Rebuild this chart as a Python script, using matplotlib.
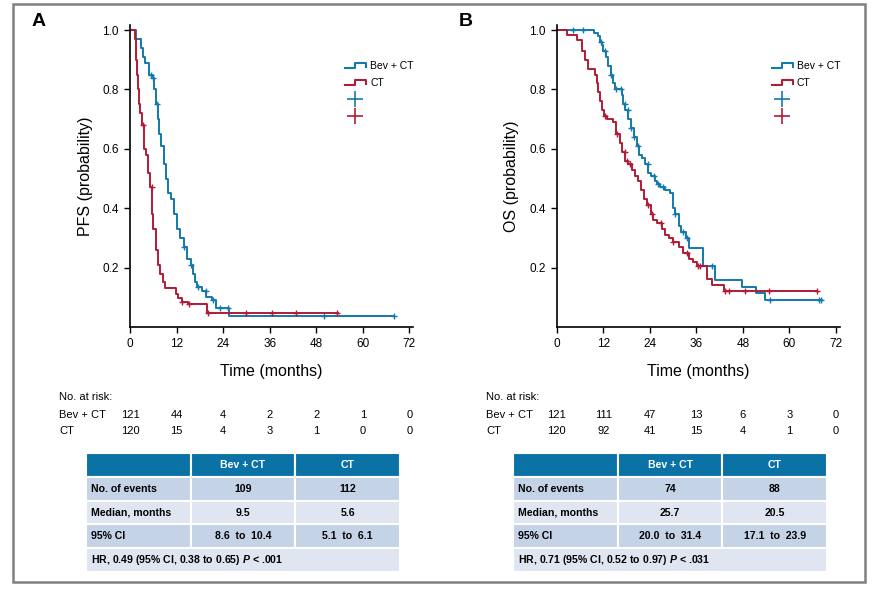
import numpy as np
import matplotlib
matplotlib.use("Agg")
from matplotlib import pyplot as plt
from matplotlib.lines import Line2D
from matplotlib.patches import Rectangle

plt.rcParams['font.family'] = ['Liberation Sans', 'DejaVu Sans']
plt.rcParams['mathtext.fontset'] = 'custom'
plt.rcParams['mathtext.it'] = 'Liberation Sans:italic:bold'
plt.rcParams['mathtext.rm'] = 'Liberation Sans:bold'

BLUE = '#1479ab'
RED = '#b01c35'

# ---- data ----
# Panel A: PFS
pfs_bev_t = [0, 1.6, 2.9, 3.4, 3.8, 4.9, 5.8, 6.2, 6.7, 7.2, 7.6, 7.9, 8.8, 9.2, 9.9,
             10.6, 11.3, 12.0, 12.9, 13.9, 14.6, 15.6, 16.2, 16.8, 17.2, 18.6, 19.6,
             21.2, 22.1, 25.4, 68.0]
pfs_bev_s = [1.0, 0.97, 0.94, 0.91, 0.89, 0.85, 0.84, 0.80, 0.75, 0.70, 0.65, 0.61,
             0.55, 0.50, 0.45, 0.43, 0.38, 0.33, 0.30, 0.27, 0.23, 0.21, 0.18, 0.15,
             0.136, 0.12, 0.10, 0.09, 0.063, 0.038, 0.038]
pfs_bev_cens = [5.5, 5.9, 7.0, 14.0, 15.8, 17.5, 19.5, 21.4, 23.2, 25.2, 50.0, 68.0]

pfs_ct_t = [0, 1.2, 1.5, 1.7, 2.0, 2.2, 2.6, 3.0, 3.6, 4.0, 4.7, 5.2, 5.7, 6.0, 6.6,
            7.1, 7.7, 8.4, 9.1, 9.9, 11.9, 12.5, 13.5, 15.0, 19.8, 53.5]
pfs_ct_s = [1.0, 0.97, 0.90, 0.85, 0.80, 0.75, 0.72, 0.68, 0.60, 0.58, 0.52, 0.47,
            0.38, 0.33, 0.26, 0.21, 0.18, 0.15, 0.13, 0.13, 0.11, 0.099, 0.085, 0.076,
            0.048, 0.048]
pfs_ct_cens = [3.4, 5.6, 13.5, 15.2, 20.0, 29.8, 36.5, 42.8, 53.3]

# Panel B: OS
os_bev_t = [0, 9.6, 10.7, 11.2, 11.7, 12.0, 12.7, 13.3, 14.0, 14.4, 15.0, 16.8, 17.2,
            17.7, 18.5, 19.1, 19.8, 20.6, 21.3, 21.9, 22.8, 23.6, 24.2, 25.3, 25.9,
            26.6, 27.9, 29.2, 30.0, 30.5, 31.4, 32.0, 33.3, 34.0, 37.8, 40.8, 47.7,
            51.5, 53.7, 68.4]
os_bev_s = [1.0, 0.99, 0.98, 0.96, 0.95, 0.93, 0.91, 0.88, 0.85, 0.82, 0.80, 0.78,
            0.75, 0.73, 0.70, 0.67, 0.64, 0.61, 0.58, 0.57, 0.55, 0.52, 0.51, 0.49,
            0.48, 0.47, 0.46, 0.45, 0.40, 0.38, 0.34, 0.32, 0.30, 0.265, 0.206, 0.158,
            0.136, 0.113, 0.091, 0.091]
os_bev_cens = [4.1, 6.7, 11.5, 12.5, 14.0, 15.2, 16.5, 17.5, 18.4, 19.2, 20.0, 21.0,
               23.5, 25.0, 26.0, 27.5, 30.6, 32.5, 33.5, 40.0, 55.0, 67.5, 68.2]

os_ct_t = [0, 2.6, 5.2, 6.4, 7.3, 8.0, 9.9, 10.3, 10.7, 11.2, 11.8, 12.3, 13.0, 14.6,
           15.3, 16.2, 16.8, 17.7, 18.5, 19.3, 20.2, 21.0, 21.7, 22.5, 23.4, 24.2, 24.9,
           25.8, 27.1, 27.9, 29.0, 29.9, 31.6, 32.6, 34.2, 35.2, 36.1, 38.8, 40.1, 43.0,
           67.0]
os_ct_s = [1.0, 0.985, 0.965, 0.93, 0.90, 0.87, 0.85, 0.82, 0.79, 0.76, 0.73, 0.71,
           0.70, 0.69, 0.65, 0.62, 0.59, 0.56, 0.55, 0.53, 0.51, 0.49, 0.46, 0.43, 0.41,
           0.38, 0.36, 0.35, 0.33, 0.31, 0.30, 0.285, 0.27, 0.25, 0.23, 0.22, 0.205,
           0.16, 0.143, 0.121, 0.121]
os_ct_cens = [12.5, 15.5, 17.5, 18.2, 19.0, 23.5, 24.5, 27.0, 30.0, 33.5, 36.5, 37.0,
              43.5, 44.5, 48.5, 54.7, 67.0]

risk_times = [0, 12, 24, 36, 48, 60, 72]
pfs_risk_bev = [121, 44, 4, 2, 2, 1, 0]
pfs_risk_ct = [120, 15, 4, 3, 1, 0, 0]
os_risk_bev = [121, 111, 47, 13, 6, 3, 0]
os_risk_ct = [120, 92, 41, 15, 4, 1, 0]

table_cols = ['', 'Bev + CT', 'CT']
table_rows = ['No. of events', 'Median, months', '95% CI']
pfs_table = [['109', '112'], ['9.5', '5.6'], ['8.6  to  10.4', '5.1  to  6.1']]
os_table = [['74', '88'], ['25.7', '20.5'], ['20.0  to  31.4', '17.1  to  23.9']]
pfs_hr = r'HR, 0.49 (95% CI, 0.38 to 0.65) $P$ < .001'
os_hr = r'HR, 0.71 (95% CI, 0.52 to 0.97) $P$ < .031'


class StepHandler:
    # legend icon drawn as a small step
    def legend_artist(self, legend, orig_handle, fontsize, handlebox):
        x0, y0 = -handlebox.xdescent, -handlebox.ydescent
        w, h = handlebox.width, handlebox.height
        xs = [x0, x0 + 0.5 * w, x0 + 0.5 * w, x0 + w, x0 + w]
        ys = [y0 + 0.15 * h, y0 + 0.15 * h, y0 + 0.85 * h, y0 + 0.85 * h, y0 + 0.35 * h]
        line = Line2D(xs, ys, color=orig_handle.get_color(), lw=1.5,
                      transform=handlebox.get_transform())
        handlebox.add_artist(line)
        return line


def surv_at(times, t, s):
    idx = np.searchsorted(t, times, side='right') - 1
    return np.array(s)[idx]


W, H = 878, 593
fig = plt.figure(figsize=(W / 100, H / 100), dpi=100)

# outer frame
fig.patches.append(Rectangle((13 / W, 1 - 582 / H), 852 / W, 578 / H, transform=fig.transFigure,
                             fill=False, edgecolor='#808080', lw=1.8))


def km_panel(left_px, letter, ylabel, bev_t, bev_s, bev_c, ct_t, ct_s, ct_c,
             risk_bev, risk_ct, tab_left_px, tab_vals, hr_text):
    ax = fig.add_axes([left_px / W, 1 - 327 / H, 283 / W, 302 / H])
    l1, = ax.plot(bev_t, bev_s, drawstyle='steps-post', color=BLUE, lw=1.4, label='Bev + CT')
    l2, = ax.plot(ct_t, ct_s, drawstyle='steps-post', color=RED, lw=1.4, label='CT')
    ax.plot(bev_c, surv_at(bev_c, bev_t, bev_s), ls='none', marker='+', ms=5, mew=1, color=BLUE)
    ax.plot(ct_c, surv_at(ct_c, ct_t, ct_s), ls='none', marker='+', ms=5, mew=1, color=RED)

    ax.set_xlim(0, 72.95)
    ax.set_ylim(0, 1.017)
    ax.set_xticks(risk_times)
    ax.set_yticks([0.2, 0.4, 0.6, 0.8, 1.0])
    ax.set_yticklabels(['0.2', '0.4', '0.6', '0.8', '1.0'])
    for sp in ['top', 'right']:
        ax.spines[sp].set_visible(False)
    for sp in ['left', 'bottom']:
        ax.spines[sp].set_linewidth(1.2)
    ax.tick_params(direction='out', length=4, width=1, labelsize=8.5, pad=4)
    ax.set_xlabel('Time (months)', fontsize=11.5, labelpad=10)
    ax.set_ylabel(ylabel, fontsize=11.5, labelpad=7)

    p1 = Line2D([], [], ls='none', marker='+', ms=11, mew=1.2, color=BLUE)
    p2 = Line2D([], [], ls='none', marker='+', ms=11, mew=1.2, color=RED)
    ax.legend([l1, l2, p1, p2], ['Bev + CT', 'CT', '', ''],
              handler_map={l1: StepHandler(), l2: StepHandler()},
              loc='upper left', bbox_to_anchor=(0.745, 0.893), frameon=False,
              fontsize=7.5, handlelength=2.0, handletextpad=0.4, labelspacing=0.65,
              borderaxespad=0)

    fig.text((left_px - 98) / W, 1 - 22 / H, letter, fontsize=14, fontweight='bold', va='center')

    # number at risk
    ax.text(-0.25, -0.233, 'No. at risk:', transform=ax.transAxes, fontsize=8, va='center')
    ax.text(-0.25, -0.29, 'Bev + CT', transform=ax.transAxes, fontsize=8, va='center')
    ax.text(-0.25, -0.346, 'CT', transform=ax.transAxes, fontsize=8, va='center')
    tr = ax.get_xaxis_transform()
    for t, a, b in zip(risk_times, risk_bev, risk_ct):
        ax.text(t, -0.29, str(a), transform=tr, fontsize=8, ha='center', va='center')
        ax.text(t, -0.346, str(b), transform=tr, fontsize=8, ha='center', va='center')

    # summary table
    axt = fig.add_axes([tab_left_px / W, 1 - 572 / H, 314 / W, 119 / H])
    axt.set_xlim(0, 3)
    axt.set_ylim(5, 0)
    axt.axis('off')
    colors = ['#c5d3e7', '#dfe6f1', '#c5d3e7']
    for j in range(3):
        axt.add_patch(Rectangle((j, 0), 1, 1, facecolor='#0b72a6', edgecolor='white', lw=1.5))
        if table_cols[j]:
            axt.text(j + 0.5, 0.5, table_cols[j], color='white', fontsize=7.6, fontweight='bold',
                     ha='center', va='center')
    for i, name in enumerate(table_rows):
        for j in range(3):
            axt.add_patch(Rectangle((j, i + 1), 1, 1, facecolor=colors[i], edgecolor='white', lw=1.5))
        axt.text(0.05, i + 1.5, name, fontsize=7.6, fontweight='bold', ha='left', va='center')
        for j, v in enumerate(tab_vals[i]):
            axt.text(j + 1.5, i + 1.5, v, fontsize=7.6, fontweight='bold', ha='center', va='center')
    axt.add_patch(Rectangle((0, 4), 3, 1, facecolor='#dfe6f1', edgecolor='white', lw=1.5))
    axt.text(0.05, 4.5, hr_text, fontsize=7.6, fontweight='bold', ha='left', va='center')
    return ax


km_panel(130, 'A', 'PFS (probability)', pfs_bev_t, pfs_bev_s, pfs_bev_cens,
         pfs_ct_t, pfs_ct_s, pfs_ct_cens, pfs_risk_bev, pfs_risk_ct, 86, pfs_table, pfs_hr)
km_panel(556.7, 'B', 'OS (probability)', os_bev_t, os_bev_s, os_bev_cens,
         os_ct_t, os_ct_s, os_ct_cens, os_risk_bev, os_risk_ct, 513, os_table, os_hr)

fig.savefig('out.png', dpi=100)
